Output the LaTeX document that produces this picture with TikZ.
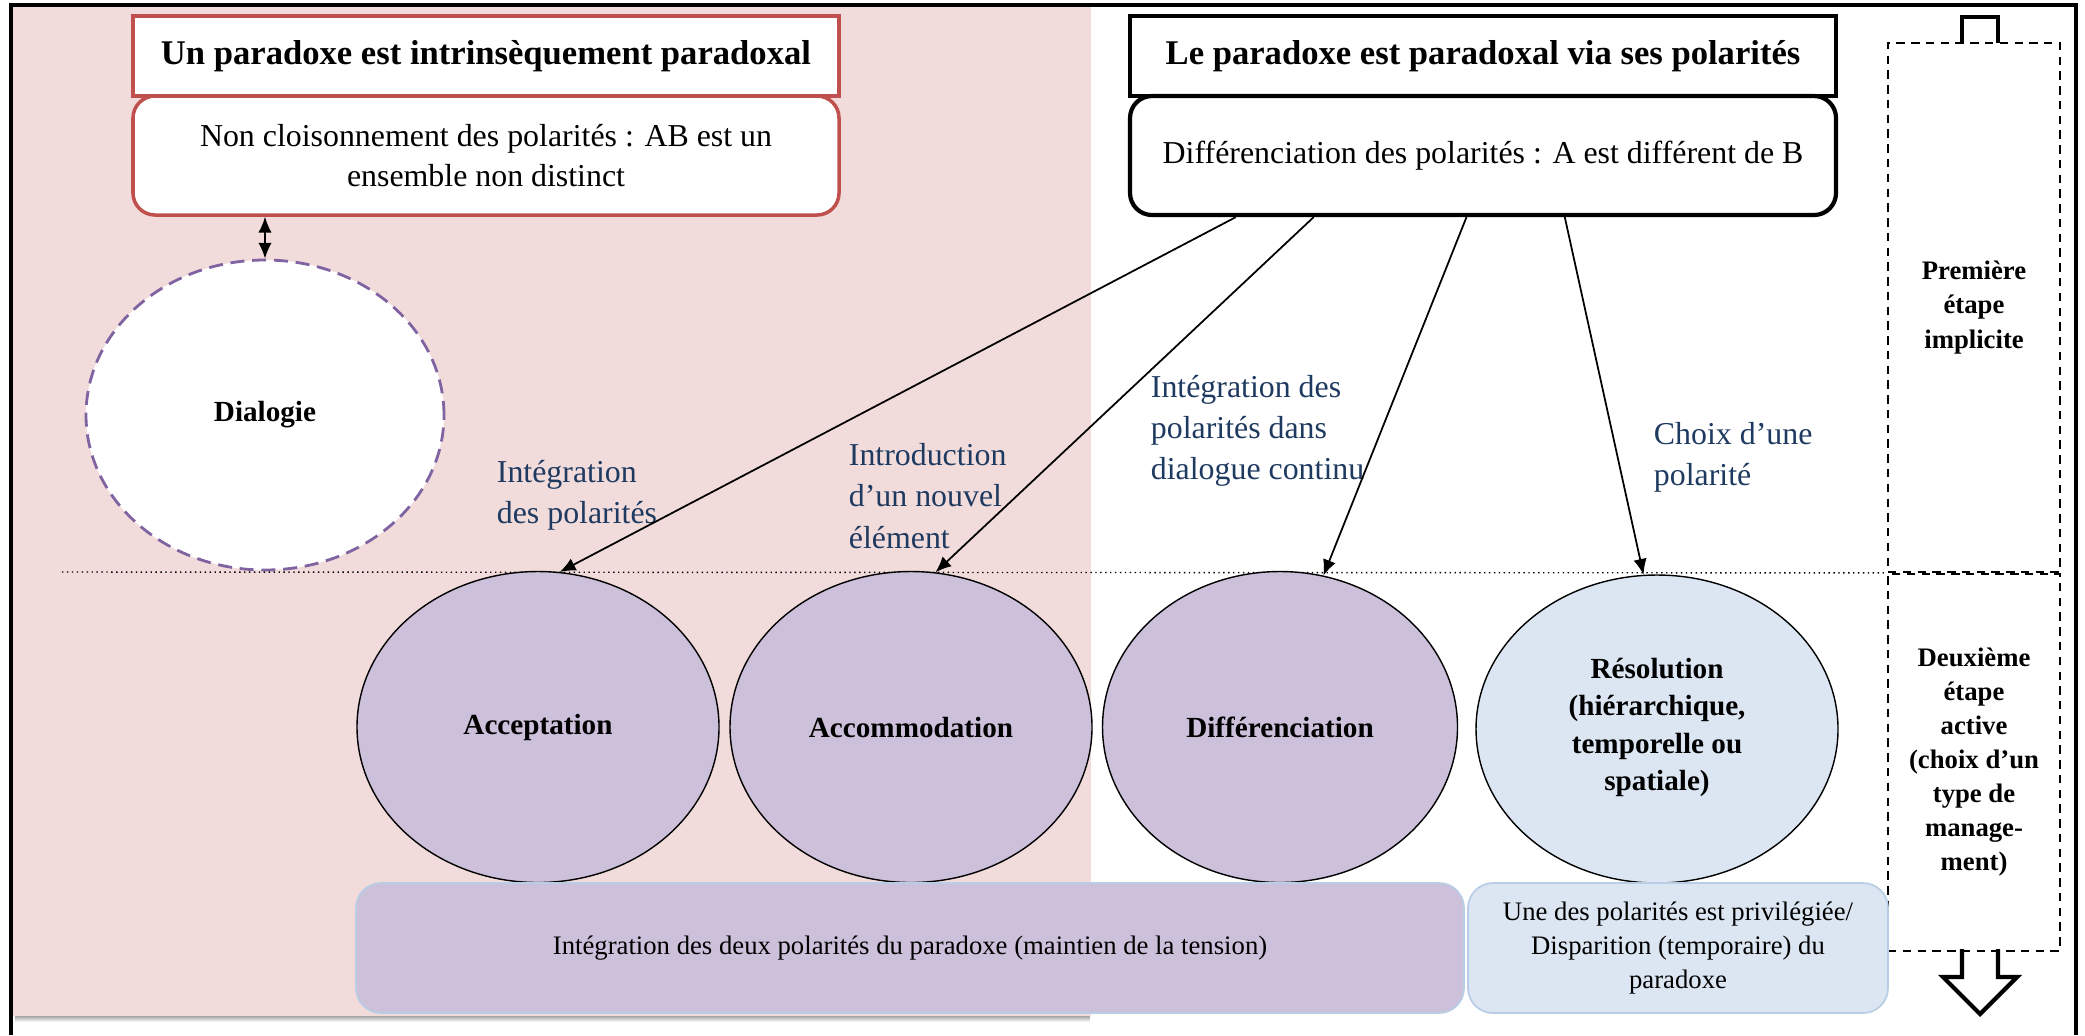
\documentclass[tikz,border=0pt]{standalone}
\usepackage{fontspec}
\setmainfont{Liberation Serif}
\usepackage{tikz}
\usetikzlibrary{shapes}
\usetikzlibrary{arrows.meta,positioning}
\definecolor{rose}{HTML}{F2DCDB}
\definecolor{brique}{HTML}{C0504D}
\definecolor{mauve}{HTML}{CCC0DA}
\definecolor{ciel}{HTML}{DCE6F2}
\definecolor{encre}{HTML}{1F3A60}
\definecolor{lavande}{HTML}{8064A2}
\definecolor{bordbleu}{HTML}{B9CDE5}
\tikzstyle{title node}=[draw, fill=white, line width=1pt, minimum width=7.06cm, minimum height=0.8cm, inner sep=0pt, font=\fontsize{9.85}{12}\selectfont\bfseries]
\tikzstyle{text node}=[draw, fill=white, rounded corners=0.22cm, line width=1pt, minimum width=7.06cm, minimum height=1.19cm, inner sep=0pt, align=center, font=\fontsize{9.07}{11.4}\selectfont]
\tikzstyle{main node}=[ellipse, draw, line width=0.4pt, minimum width=3.62cm, minimum height=3.11cm, inner sep=0pt, align=center, font=\fontsize{8.3}{10.6}\selectfont\bfseries]
\tikzstyle{csv}=[main node, fill=mauve]
\tikzstyle{sv}=[main node, fill=ciel]
\tikzstyle{note}=[anchor=west, inner sep=0pt, align=left, text=encre, font=\fontsize{9.07}{11.7}\selectfont]
\tikzstyle{base node}=[draw=bordbleu, rounded corners=0.25cm, line width=0.5pt, minimum height=1.3cm, inner sep=0pt, align=center, font=\fontsize{7.6}{9.7}\selectfont]
\tikzstyle{stage node}=[draw, dash pattern=on 2.4pt off 1.8pt, line width=0.5pt, minimum width=1.72cm, inner sep=0pt, align=center, font=\fontsize{7.6}{9.7}\selectfont\bfseries]

\begin{document}
\begin{tikzpicture}[>={Latex[length=4.5pt,width=3.8pt]}, line width=0.5pt, node distance=1cm]
%
  \useasboundingbox (0,0) rectangle (20.85,-10.35);
  \fill[rose] (0.11,-0.05) rectangle (10.91,-10.16);
  \shade[top color=black!35, bottom color=white] (0.15,-10.16) rectangle (10.9,-10.22);
  \draw[line width=0.9pt] (0.11,-10.35) |- (20.76,-0.05) -- (20.76,-10.35);
%
  \node[title node, draw=brique] (1) at (4.86,-0.56) {Un paradoxe est intrinsèquement paradoxal};
  \node[text node, draw=brique] (2) [below=-1pt of 1] {Non cloisonnement des polarités : AB est un\\ensemble non distinct};
  \node[title node, line width=1.2pt] (3) at (14.83,-0.56) {Le paradoxe est paradoxal via ses polarités};
  \node[text node, line width=1.2pt] (4) [below=-1.2pt of 3] {Différenciation des polarités : A est différent de B};
  \node[ellipse, draw=lavande, dash pattern=on 4pt off 2.2pt, line width=0.8pt, fill=white, minimum width=3.58cm, minimum height=3.1cm, font=\fontsize{8.3}{10.6}\selectfont\bfseries] (5) at (2.65,-4.15) {Dialogie};
%
  \node[stage node, minimum height=5.29cm] (12) at (19.74,-3.075) {Première\\étape\\implicite};
  \node[stage node, minimum height=3.77cm] (13) [below=0pt of 12] {Deuxième\\étape\\active\\(choix d’un\\type de\\manage-\\ment)};
  \coordinate (0) at (0.62,-5.72);
  \draw[densely dotted, line width=0.4pt] (0) -- (12.south west);
%
  \node[csv] (6) at (5.38,-7.27) {Acceptation};
  \node[csv] (7) at (9.11,-7.27) {Accommodation};
  \node[csv, minimum width=3.55cm] (8) at (12.80,-7.27) {Différenciation};
  \node[sv, minimum height=3.08cm] (9) at (16.57,-7.29) {Résolution\\(hiérarchique,\\temporelle ou\\spatiale)\\[-8pt]};
  \node[base node, fill=mauve, minimum width=11.08cm] (10) at (9.10,-9.48) {Intégration des deux polarités du paradoxe (maintien de la tension)};
  \node[base node, fill=ciel, minimum width=4.20cm] (11) at (16.78,-9.48) {Une des polarités est privilégiée/\\Disparition (temporaire) du\\paradoxe};
%
  \node[note] (14) at (4.96,-4.95) {Intégration\\des polarités};
  \node[note] (15) at (8.48,-4.96) {Introduction\\d’un nouvel\\élément};
  \node[note] (16) at (11.50,-4.31) {Intégration des\\polarités dans\\dialogue continu};
  \node[note] (17) at (16.53,-4.57) {Choix d’une\\polarité};
%
 \path[->]
	(4.194.6) edge (6.82)
	(4.200) edge (7.81)
	(4.255) edge (8.74)
	(4.323) edge (9.95);
 \path[<->] (5.north |- 2.south) edge (5.north);
%
  \draw[line width=1.2pt] (19.62,-0.43) |- (19.98,-0.17) -- (19.98,-0.43);
  \draw[line width=1.2pt, miter limit=4] (19.62,-9.49) -- (19.62,-9.77) -- (19.43,-9.77) -- (19.80,-10.14) -- (20.17,-9.77) -- (19.98,-9.77) -- (19.98,-9.49);
%
\end{tikzpicture}
\end{document}
